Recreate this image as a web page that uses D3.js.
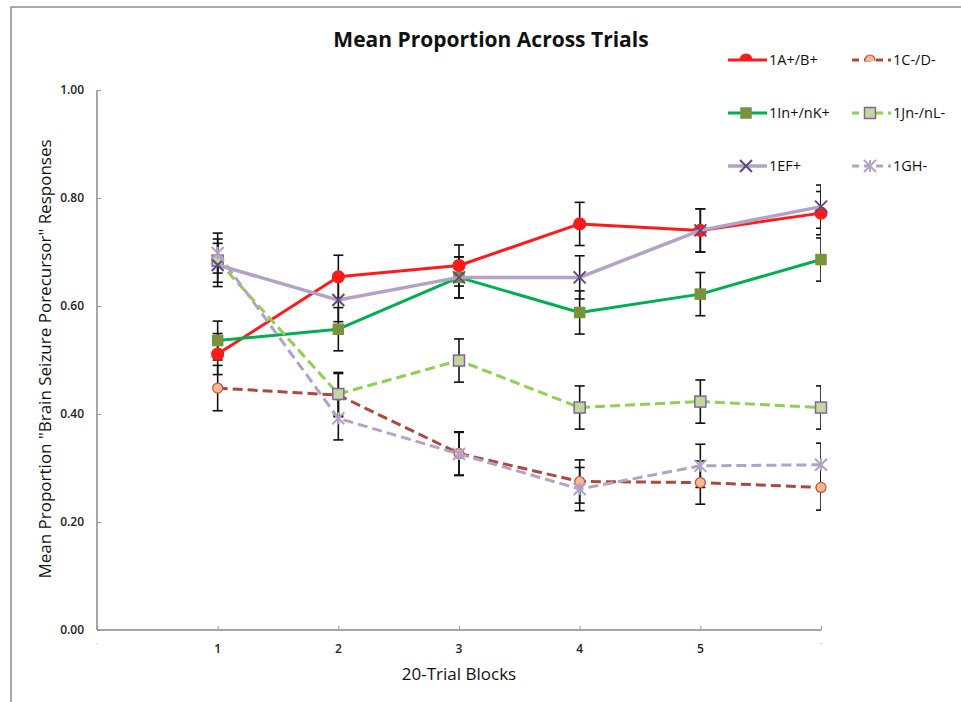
<!DOCTYPE html>
<html>
<head>
<meta charset="utf-8">
<script src="https://cdn.jsdelivr.net/npm/d3@7"></script>
<style>
  body { margin: 0; background: #fff; }
  svg { display: block; }
  text { font-family: "Open Sans", sans-serif; }
</style>
</head>
<body>
<div id="chart"></div>
<script>
// data
const blocks = [1, 2, 3, 4, 5, 6];
const xTickLabels = ["-", "1", "2", "3", "4", "5", "-"];
const yTicks = [0, 0.2, 0.4, 0.6, 0.8, 1.0];

const seriesNames = ["1A+/B+", "1C-/D-", "1In+/nK+", "1Jn-/nL-", "1EF+", "1GH-"];

const valsAB  = [0.511, 0.654, 0.675, 0.752, 0.740, 0.772];
const valsCD  = [0.448, 0.435, 0.327, 0.275, 0.273, 0.264];
const valsInK = [0.536, 0.557, 0.653, 0.588, 0.622, 0.686];
const valsJnL = [0.684, 0.437, 0.499, 0.412, 0.423, 0.412];
const valsEF  = [0.676, 0.611, 0.653, 0.653, 0.740, 0.784];
const valsGH  = [0.698, 0.392, 0.326, 0.261, 0.304, 0.306];

const errAB  = [0.038, 0.040, 0.038, 0.040, 0.040, 0.040];
const errCD  = [0.042, 0.040, 0.040, 0.040, 0.040, 0.042];
const errInK = [0.036, 0.040, 0.038, 0.040, 0.040, 0.040];
const errJnL = [0.040, 0.040, 0.040, 0.040, 0.040, 0.040];
const errEF  = [0.040, 0.040, 0.038, 0.040, 0.040, 0.040];
const errGH  = [0.037, 0.040, 0.040, 0.040, 0.040, 0.040];

// styles
const styles = [
  {line: "#ff1a1a", dash: null,   width: 3,   marker: "circle", fill: "#ff1a1a", stroke: "#ff1a1a", size: 6},
  {line: "#b0473f", dash: "10,5", width: 3,   marker: "circle", fill: "#f8b88b", stroke: "#c0504d", size: 5},
  {line: "#00b050", dash: null,   width: 3,   marker: "square", fill: "#77933c", stroke: "#77933c", size: 10},
  {line: "#92d050", dash: "10,5", width: 3,   marker: "square", fill: "#c3d69b", stroke: "#7f64a2", size: 11},
  {line: "#b3a2c7", dash: null,   width: 3.5, marker: "x",      fill: "none",    stroke: "#604a7b", size: 6},
  {line: "#b3a2c7", dash: "10,5", width: 3,   marker: "star",   fill: "none",    stroke: "#b3a2c7", size: 6}
];

const allVals = [valsAB, valsCD, valsInK, valsJnL, valsEF, valsGH];
const allErrs = [errAB, errCD, errInK, errJnL, errEF, errGH];

const series = seriesNames.map((name, i) => ({
  name: name,
  style: styles[i],
  points: blocks.map((b, j) => ({x: b, y: allVals[i][j], e: allErrs[i][j]}))
}));

const W = 961, H = 702;

const svg = d3.select("#chart").append("svg")
  .attr("width", W).attr("height", H);

// outer frame
svg.append("rect")
  .attr("x", 11).attr("y", 7)
  .attr("width", 1000).attr("height", 1000)
  .attr("fill", "none").attr("stroke", "#8c8c8c").attr("stroke-width", 1.5);

const x = d3.scaleLinear().domain([0, 6]).range([97, 821]);
const y = d3.scaleLinear().domain([0, 1]).range([630, 90]);

// y axis
const yAxis = svg.append("g")
  .attr("transform", `translate(${x(0)},0)`)
  .call(d3.axisRight(y).tickValues(yTicks).tickSize(4).tickFormat(""));
yAxis.select(".domain").attr("stroke", "#888").attr("stroke-width", 1.5)
  .attr("d", `M0,${y(1)}V${y(0)}`);
yAxis.selectAll(".tick line").attr("stroke", "#999");

svg.append("g").selectAll("text")
  .data(yTicks).join("text")
  .attr("x", 84).attr("y", d => y(d))
  .attr("dy", "0.35em")
  .attr("text-anchor", "end")
  .attr("font-size", 12).attr("font-weight", 600)
  .attr("fill", "#222")
  .text(d3.format(".2f"));

// x axis
const xAxis = svg.append("g")
  .attr("transform", `translate(0,${y(0)})`)
  .call(d3.axisTop(x).tickValues(d3.range(0, 7)).tickSize(4).tickFormat(""));
xAxis.select(".domain").attr("stroke", "#888").attr("stroke-width", 1.5)
  .attr("d", `M${x(0)},0H${x(6)}`);
xAxis.selectAll(".tick line").attr("stroke", "#999");

svg.append("g").selectAll("text")
  .data(xTickLabels).join("text")
  .attr("x", (d, i) => x(i))
  .attr("y", (d, i) => (d === "-" ? 645 : 653))
  .attr("text-anchor", "middle")
  .attr("font-size", d => (d === "-" ? 7 : 12))
  .attr("font-weight", d => (d === "-" ? 400 : 600))
  .attr("fill", d => (d === "-" ? "#aaa" : "#222"))
  .text(d => d);

// titles
svg.append("text")
  .attr("x", 491).attr("y", 47)
  .attr("text-anchor", "middle")
  .attr("font-size", 21).attr("font-weight", "bold")
  .attr("fill", "#111")
  .text("Mean Proportion Across Trials");

svg.append("text")
  .attr("x", 459).attr("y", 680)
  .attr("text-anchor", "middle")
  .attr("font-size", 17).attr("fill", "#111")
  .text("20-Trial Blocks");

svg.append("text")
  .attr("transform", `translate(51,${y(0.5) - 1}) rotate(-90)`)
  .attr("text-anchor", "middle")
  .attr("font-size", 17).attr("fill", "#111")
  .text("Mean Proportion \"Brain Seizure Porecursor\" Responses");

// clip for error bars at plot edge
svg.append("clipPath").attr("id", "plotclip")
  .append("rect").attr("x", x(0)).attr("y", 0)
  .attr("width", x(6) - x(0)).attr("height", H);

// error bars
const eb = svg.append("g").attr("clip-path", "url(#plotclip)")
  .attr("stroke", "#111").attr("stroke-width", 1.6);
series.forEach(s => {
  const g = eb.append("g");
  g.selectAll("line.v").data(s.points).join("line")
    .attr("x1", d => x(d.x)).attr("x2", d => x(d.x))
    .attr("y1", d => y(d.y + d.e)).attr("y2", d => y(d.y - d.e));
  g.selectAll("line.top").data(s.points).join("line")
    .attr("x1", d => x(d.x) - 5).attr("x2", d => x(d.x) + 5)
    .attr("y1", d => y(d.y + d.e)).attr("y2", d => y(d.y + d.e));
  g.selectAll("line.bot").data(s.points).join("line")
    .attr("x1", d => x(d.x) - 5).attr("x2", d => x(d.x) + 5)
    .attr("y1", d => y(d.y - d.e)).attr("y2", d => y(d.y - d.e));
});

function drawMarker(g, st, cx, cy) {
  if (st.marker === "circle") {
    g.append("circle").attr("cx", cx).attr("cy", cy).attr("r", st.size)
      .attr("fill", st.fill).attr("stroke", st.stroke).attr("stroke-width", 1.2);
  } else if (st.marker === "square") {
    g.append("rect").attr("x", cx - st.size / 2).attr("y", cy - st.size / 2)
      .attr("width", st.size).attr("height", st.size)
      .attr("fill", st.fill).attr("stroke", st.stroke).attr("stroke-width", 1.5);
  } else {
    const r = st.size;
    let p = `M${cx - r},${cy - r}L${cx + r},${cy + r}M${cx - r},${cy + r}L${cx + r},${cy - r}`;
    if (st.marker === "star") p += `M${cx},${cy - r}L${cx},${cy + r}`;
    g.append("path").attr("d", p).attr("fill", "none")
      .attr("stroke", st.stroke).attr("stroke-width", 2);
  }
}

const line = d3.line().x(d => x(d.x)).y(d => y(d.y));

series.forEach(s => {
  const g = svg.append("g");
  g.append("path").datum(s.points)
    .attr("d", line)
    .attr("fill", "none")
    .attr("stroke", s.style.line)
    .attr("stroke-width", s.style.width)
    .attr("stroke-dasharray", s.style.dash)
    .attr("stroke-linejoin", "round");
  s.points.forEach(p => drawMarker(g, s.style, x(p.x), y(p.y)));
});

// legend
const legX = [728, 852];
const legY = [60, 113, 166];
series.forEach((s, i) => {
  const lx = legX[i % 2], ly = legY[Math.floor(i / 2)];
  const g = svg.append("g");
  g.append("line")
    .attr("x1", lx).attr("x2", lx + 39).attr("y1", ly).attr("y2", ly)
    .attr("stroke", s.style.line).attr("stroke-width", s.style.width)
    .attr("stroke-dasharray", s.style.dash ? "7,5" : null);
  const mg = g.append("g");
  if (ly === legY[0]) {
    svg.append("clipPath").attr("id", "legclip" + i)
      .append("rect").attr("x", lx).attr("y", ly - 20).attr("width", 40).attr("height", 21);
    mg.attr("clip-path", `url(#legclip${i})`);
  }
  drawMarker(mg, s.style, lx + 18, ly);
  g.append("text")
    .attr("x", lx + 41).attr("y", ly).attr("dy", "0.35em")
    .attr("font-size", 14.5).attr("fill", "#111")
    .text(s.name);
});
</script>
</body>
</html>
